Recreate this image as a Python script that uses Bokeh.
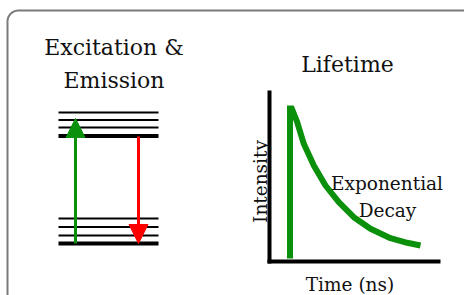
import numpy as np
from bokeh.plotting import figure
from bokeh.models import Range1d, Arrow, NormalHead
from bokeh.core.properties import value
from bokeh.embed import file_html
from bokeh.resources import INLINE

# ---- data (page pixel frame: x right, y down) ----
level_x0 = 58
level_x1 = 158
upper_levels = [112, 119.5, 127, 135.5]
lower_levels = [218, 226.5, 235, 243]
level_widths = [2, 2, 2, 4]

excite_x = 75
excite_from = 243
excite_to = 118
emit_x = 138
emit_from = 136
emit_to = 243

axis_x = 269
axis_top = 90
axis_y = 261
axis_right = 440

pulse_x = 289.5
pulse_top = 105
pulse_bottom = 258
decay_t = [290.5, 296.7, 303.3, 313.3, 325, 338.3, 353.3, 370, 390, 406.7, 420]
decay_i = [106, 121.7, 143.3, 165, 185, 201.7, 216.7, 228.3, 237.7, 242.3, 245]

titles = ["Excitation &", "Emission", "Lifetime"]
title_x = [113.5, 113.5, 347]
title_y = [47, 80, 64]
labels = ["Exponential", "Decay", "Time (ns)"]
label_x = [386.5, 387, 349.5]
label_y = [183, 210, 284]

GREEN = "#0a900a"
RED = "#ff0000"
FONT = value("DejaVu Serif")

p = figure(width=464, height=295, x_range=Range1d(0, 464), y_range=Range1d(295, 0),
           output_backend="svg", toolbar_location=None, min_border=0,
           x_axis_type=None, y_axis_type=None)
p.xgrid.visible = False
p.ygrid.visible = False
p.outline_line_color = None
p.background_fill_color = "white"
p.border_fill_color = "white"

# rounded frame (decoration)
r = 11
bx0, by0 = 7, 10
ang = np.linspace(np.pi, 1.5 * np.pi, 20)
fx = [bx0, bx0] + list(bx0 + r + r * np.cos(ang)) + [bx0 + r, 470]
fy = [300, by0 + r] + list(by0 + r + r * np.sin(ang)) + [by0, by0]
p.line(fx, fy, line_color="#7a7a7a", line_width=2)

# energy levels
for y, w in zip(upper_levels, level_widths):
    p.segment(level_x0, y, level_x1, y, line_color="black", line_width=w)
for y, w in zip(lower_levels, level_widths):
    p.segment(level_x0, y, level_x1, y, line_color="black", line_width=w)

# arrows
p.add_layout(Arrow(end=NormalHead(size=19, fill_color=GREEN, line_color=GREEN, line_width=1),
                   x_start=excite_x, y_start=excite_from, x_end=excite_x, y_end=excite_to,
                   line_color=GREEN, line_width=3))
p.add_layout(Arrow(end=NormalHead(size=19, fill_color=RED, line_color=RED, line_width=1),
                   x_start=emit_x, y_start=emit_from, x_end=emit_x, y_end=emit_to,
                   line_color=RED, line_width=3))

# lifetime axes
p.segment(axis_x, axis_top, axis_x, axis_y + 2, line_color="black", line_width=4)
p.segment(axis_x - 2, axis_y, axis_right, axis_y, line_color="black", line_width=4)

# pulse and decay
p.segment(pulse_x, pulse_top, pulse_x, pulse_bottom, line_color=GREEN, line_width=6)
p.line(decay_t, decay_i, line_color=GREEN, line_width=6, line_join="round")

# texts
p.text(title_x, title_y, text=titles, text_font=FONT, text_font_size="22px",
       text_align="center", text_baseline="alphabetic", text_color="#111111")
p.text(label_x, label_y, text=labels, text_font=FONT, text_font_size="18.5px",
       text_align="center", text_baseline="alphabetic", text_color="#111111")
p.text([260], [181], text=["Intensity"], text_font=FONT, text_font_size="18.5px",
       text_align="center", text_baseline="alphabetic", text_color="#111111", angle=np.pi / 2)

open("out.html", "w").write(file_html(p, INLINE))
